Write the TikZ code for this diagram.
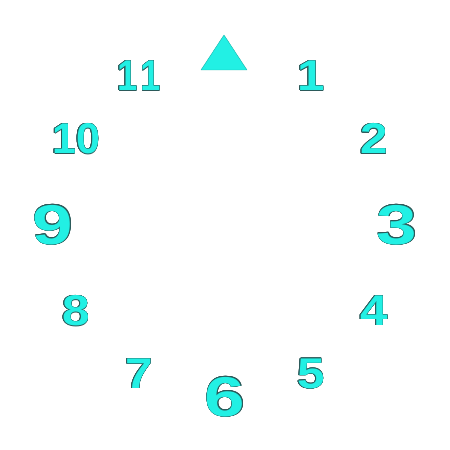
\documentclass[tikz,border=0pt]{standalone}
\usepackage{fontspec}
\setmainfont{Liberation Sans}
\usepackage{xcolor}
\usepackage{contour}
\usepackage{tikz}
\definecolor{dial}{HTML}{22F0E4}
\definecolor{rim}{HTML}{2B5A5A}
\contourlength{0.4pt}
\contournumber{16}
\newcommand{\hourglyph}[2]{\scalebox{#2}[1]{\contour{rim}{\textcolor{dial}{#1}}}}

\begin{document}
\begin{tikzpicture}[
  x=1pt,y=1pt,
  hour/.style={font=\bfseries\fontsize{43}{43}\selectfont,inner sep=0pt},
  major/.style={font=\bfseries\fontsize{56}{56}\selectfont,inner sep=0pt},
  marker/.style={fill=dial,draw=dial!75!black,line width=0.4pt,line join=round}
]
\useasboundingbox (-225,-225) rectangle (225,225);
% dial centre
\coordinate (O) at (0,0);
% ordinary hours
\foreach \h/\s in {1/1.15,2/1.15,4/1.15,5/1.15,7/1.15,8/1.15,10/1.0}
  \node[hour] (h\h) at ({90-30*\h}:172) {\hourglyph{\h}{\s}};
\node[hour] (h11) at (120:172) {\hourglyph{1}{0.85}\kern3pt\hourglyph{1}{0.85}};
% quarter hours
\foreach \h in {3,6,9}
  \node[major] (h\h) at ({90-30*\h}:172) {\hourglyph{\h}{1.3}};
% twelve o'clock marker
\draw[marker] (-1,190) -- (22,155) -- (-24,155) -- cycle;
\end{tikzpicture}
\end{document}
